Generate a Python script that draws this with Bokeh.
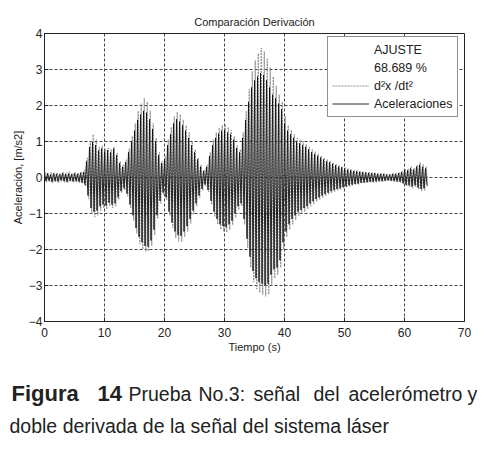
import numpy as np
from bokeh.plotting import figure
from bokeh.models import Range1d, Legend, LegendItem, FixedTicker
from bokeh.core.properties import value
from bokeh.embed import file_html
from bokeh.resources import INLINE

# ---- data (envelope peaks, every 0.5 s from t = 0) ----
step = 0.5
accel_pos = [0.10, 0.12, 0.08, 0.11, 0.10, 0.09, 0.12, 0.10, 0.11, 0.09, 0.12, 0.10, 0.13, 0.15,
             0.45, 0.85, 0.98, 0.90, 0.75, 0.80, 0.72, 0.76, 0.70, 0.80, 0.62, 0.40, 0.30, 0.42,
             0.70, 1.00, 1.30, 1.60, 1.75, 1.85, 1.80, 1.62, 1.35, 1.00, 0.62, 0.40, 0.50, 0.90,
             1.20, 1.50, 1.62, 1.55, 1.45, 1.30, 1.10, 0.90, 0.70, 0.50, 0.30, 0.18, 0.30, 0.60,
             0.90, 1.10, 1.22, 1.30, 1.32, 1.25, 1.20, 1.05, 0.82, 0.70, 1.10, 1.60, 2.10, 2.50,
             2.70, 2.80, 2.90, 2.85, 2.70, 2.50, 2.30, 2.20, 2.05, 1.90, 1.50, 1.30, 1.20, 1.10,
             1.00, 0.95, 0.90, 0.85, 0.78, 0.70, 0.65, 0.60, 0.55, 0.50, 0.45, 0.42, 0.38, 0.34,
             0.30, 0.28, 0.25, 0.22, 0.20, 0.18, 0.17, 0.16, 0.15, 0.14, 0.13, 0.12, 0.12, 0.10,
             0.10, 0.10, 0.08, 0.08, 0.10, 0.10, 0.12, 0.15, 0.20, 0.20, 0.25, 0.22, 0.30, 0.35,
             0.30, 0.25]
accel_neg = [-0.10, -0.09, -0.12, -0.10, -0.11, -0.08, -0.10, -0.12, -0.09, -0.11, -0.10, -0.12, -0.14, -0.20,
             -0.50, -0.85, -0.95, -0.92, -0.80, -0.75, -0.78, -0.70, -0.75, -0.72, -0.55, -0.38, -0.30, -0.45,
             -0.75, -1.05, -1.40, -1.65, -1.80, -1.90, -1.92, -1.75, -1.45, -1.05, -0.65, -0.42, -0.55, -0.95,
             -1.25, -1.50, -1.60, -1.62, -1.50, -1.35, -1.15, -0.92, -0.72, -0.50, -0.32, -0.20, -0.35, -0.65,
             -0.95, -1.15, -1.30, -1.35, -1.38, -1.30, -1.20, -1.00, -0.80, -0.72, -1.15, -1.70, -2.20, -2.60,
             -2.80, -2.90, -2.95, -3.00, -2.95, -2.70, -2.55, -2.50, -2.30, -1.80, -1.50, -1.30, -1.15, -1.05,
             -0.95, -0.90, -0.85, -0.80, -0.72, -0.66, -0.60, -0.55, -0.50, -0.46, -0.42, -0.38, -0.35, -0.32,
             -0.30, -0.27, -0.25, -0.22, -0.20, -0.18, -0.17, -0.15, -0.14, -0.13, -0.12, -0.12, -0.11, -0.10,
             -0.10, -0.09, -0.08, -0.09, -0.10, -0.11, -0.12, -0.16, -0.20, -0.22, -0.25, -0.22, -0.28, -0.32,
             -0.30, -0.22]
deriv_pos = [0.14, 0.12, 0.15, 0.13, 0.14, 0.12, 0.15, 0.13, 0.16, 0.12, 0.14, 0.13, 0.16, 0.20,
             0.55, 1.00, 1.20, 1.05, 0.85, 0.88, 0.80, 0.82, 0.78, 0.85, 0.68, 0.45, 0.35, 0.50,
             0.80, 1.15, 1.50, 1.85, 2.05, 2.20, 2.10, 1.85, 1.50, 1.10, 0.70, 0.45, 0.60, 1.05,
             1.40, 1.70, 1.82, 1.75, 1.60, 1.45, 1.25, 1.00, 0.78, 0.55, 0.35, 0.22, 0.35, 0.70,
             1.05, 1.25, 1.38, 1.45, 1.48, 1.40, 1.32, 1.15, 0.90, 0.78, 1.25, 1.85, 2.45, 2.95,
             3.25, 3.45, 3.60, 3.50, 3.30, 3.05, 2.80, 2.55, 2.30, 2.10, 1.70, 1.45, 1.32, 1.20,
             1.10, 1.05, 1.00, 0.92, 0.85, 0.78, 0.72, 0.66, 0.60, 0.55, 0.50, 0.46, 0.42, 0.38,
             0.34, 0.31, 0.28, 0.25, 0.23, 0.21, 0.20, 0.18, 0.17, 0.16, 0.15, 0.14, 0.14, 0.12,
             0.12, 0.12, 0.10, 0.10, 0.12, 0.12, 0.15, 0.18, 0.24, 0.24, 0.30, 0.26, 0.35, 0.42,
             0.36, 0.30]
deriv_neg = [-0.13, -0.12, -0.15, -0.13, -0.14, -0.11, -0.14, -0.15, -0.12, -0.14, -0.13, -0.15, -0.17, -0.25,
             -0.60, -1.00, -1.10, -1.05, -0.92, -0.85, -0.88, -0.80, -0.85, -0.80, -0.62, -0.42, -0.35, -0.52,
             -0.85, -1.20, -1.55, -1.85, -2.00, -2.05, -2.05, -1.90, -1.60, -1.15, -0.72, -0.48, -0.62, -1.05,
             -1.40, -1.68, -1.78, -1.78, -1.65, -1.50, -1.28, -1.02, -0.80, -0.56, -0.36, -0.24, -0.40, -0.75,
             -1.08, -1.30, -1.45, -1.50, -1.52, -1.45, -1.32, -1.12, -0.90, -0.80, -1.30, -1.95, -2.50, -2.90,
             -3.10, -3.20, -3.25, -3.30, -3.25, -3.00, -2.80, -2.70, -2.50, -2.00, -1.65, -1.45, -1.30, -1.18,
             -1.06, -1.00, -0.95, -0.88, -0.80, -0.74, -0.67, -0.62, -0.56, -0.52, -0.47, -0.43, -0.39, -0.36,
             -0.33, -0.30, -0.28, -0.25, -0.22, -0.20, -0.19, -0.17, -0.16, -0.15, -0.14, -0.14, -0.13, -0.12,
             -0.12, -0.11, -0.10, -0.11, -0.12, -0.13, -0.14, -0.19, -0.24, -0.26, -0.30, -0.26, -0.33, -0.38,
             -0.36, -0.26]

x_ticks = [0, 10, 20, 30, 40, 50, 60, 70]
y_ticks = [-4, -3, -2, -1, 0, 1, 2, 3, 4]
legend_labels = ["AJUSTE", "68.689 %", "d\u00b2x /dt\u00b2", "Aceleraciones"]
caption_bold = ["Figura", "14"]
caption_line1 = ["Prueba", "No.3:", "se\u00f1al", "del", "aceler\u00f3metro", "y"]
caption_line2 = "doble derivada de la se\u00f1al del sistema l\u00e1ser"


def zigzag(pos, neg, phase):
    xs, ys = [], []
    for i, (a, b) in enumerate(zip(pos, neg)):
        t = i * step + phase
        xs += [t, t + step / 2]
        ys += [a, b]
    return xs, ys


FONT = value("Liberation Sans")
TXT = "#222222"

p = figure(width=491, height=365, output_backend="svg", toolbar_location=None,
           x_range=Range1d(0, 70), y_range=Range1d(-4, 4),
           min_border_left=44, min_border_right=27, min_border_top=33, min_border_bottom=44)
p.title.text = "Comparaci\u00f3n Derivaci\u00f3n"
p.title.align = "center"
p.title.text_font = "Liberation Sans"
p.title.text_font_size = "11px"
p.title.text_font_style = "normal"
p.title.text_color = TXT
p.title.offset = 0
p.title.standoff = 11

gx, gy = zigzag(deriv_pos, deriv_neg, 0.125)
r_deriv = p.line(gx, gy, line_color="#8f8f8f", line_width=1, line_dash="2 1")
ax, ay = zigzag(accel_pos, accel_neg, 0.0)
r_accel = p.line(ax, ay, line_color="#111111", line_width=0.9)
r_blank1 = p.line([], [], line_alpha=0)
r_blank2 = p.line([], [], line_alpha=0)

p.xaxis.ticker = FixedTicker(ticks=x_ticks)
p.yaxis.ticker = FixedTicker(ticks=y_ticks)
p.xaxis.axis_label = "Tiempo (s)"
p.yaxis.axis_label = "Aceleraci\u00f3n, [m/s2]"
for ax_ in (p.xaxis, p.yaxis):
    ax_.axis_label_text_font = "Liberation Sans"
    ax_.axis_label_text_font_size = "11px"
    ax_.axis_label_text_font_style = "normal"
    ax_.axis_label_text_color = TXT
    ax_.major_label_text_font = "Liberation Sans"
    ax_.major_label_text_font_size = "12px"
    ax_.major_label_text_color = TXT
    ax_.axis_line_color = TXT
    ax_.major_tick_line_color = TXT
    ax_.major_tick_in = 4
    ax_.major_tick_out = 0
    ax_.minor_tick_line_color = None
p.xaxis.major_label_standoff = 6
p.xaxis.axis_label_standoff = 1
p.yaxis.major_label_standoff = 2
p.yaxis.axis_label_standoff = 2

p.grid.grid_line_color = "#444444"
p.grid.grid_line_dash = "3 2"
p.grid.grid_line_width = 1
p.outline_line_color = TXT
p.outline_line_alpha = 1

legend = Legend(items=[
    LegendItem(label=legend_labels[0], renderers=[r_blank1]),
    LegendItem(label=legend_labels[1], renderers=[r_blank2]),
    LegendItem(label=legend_labels[2], renderers=[r_deriv]),
    LegendItem(label=legend_labels[3], renderers=[r_accel]),
], location=(283, 204))
legend.border_line_color = TXT
legend.border_line_width = 1
legend.background_fill_color = "white"
legend.background_fill_alpha = 1
legend.label_text_font = "Liberation Sans"
legend.label_text_font_size = "12.5px"
legend.label_text_color = TXT
legend.glyph_width = 37
legend.glyph_height = 17
legend.label_height = 17
legend.spacing = 1
legend.padding = 4
legend.margin = 0
legend.label_standoff = 5
p.add_layout(legend, "center")

# caption as its own figure (separate root, no frame alignment)
CH = 84
c = figure(width=491, height=CH, output_backend="svg", toolbar_location=None,
           x_range=Range1d(0, 491), y_range=Range1d(0, CH),
           min_border=0, x_axis_type=None, y_axis_type=None)
c.grid.visible = False
c.outline_line_color = None
c.text(x=[11, 97], y=[CH - 28] * 2, text=caption_bold, text_font=FONT, text_font_size="22px",
       text_font_style="bold", text_color=TXT, text_baseline="middle")
c.text(x=[128, 198, 253, 313, 348, 467], y=[CH - 28] * 6, text=caption_line1, text_font=FONT,
       text_font_size="19.5px", text_color=TXT, text_baseline="middle")
c.text(x=[9], y=[CH - 60], text=[caption_line2], text_font=FONT,
       text_font_size="19.5px", text_color=TXT, text_baseline="middle")

open("out.html", "w").write(file_html([p, c], INLINE))
